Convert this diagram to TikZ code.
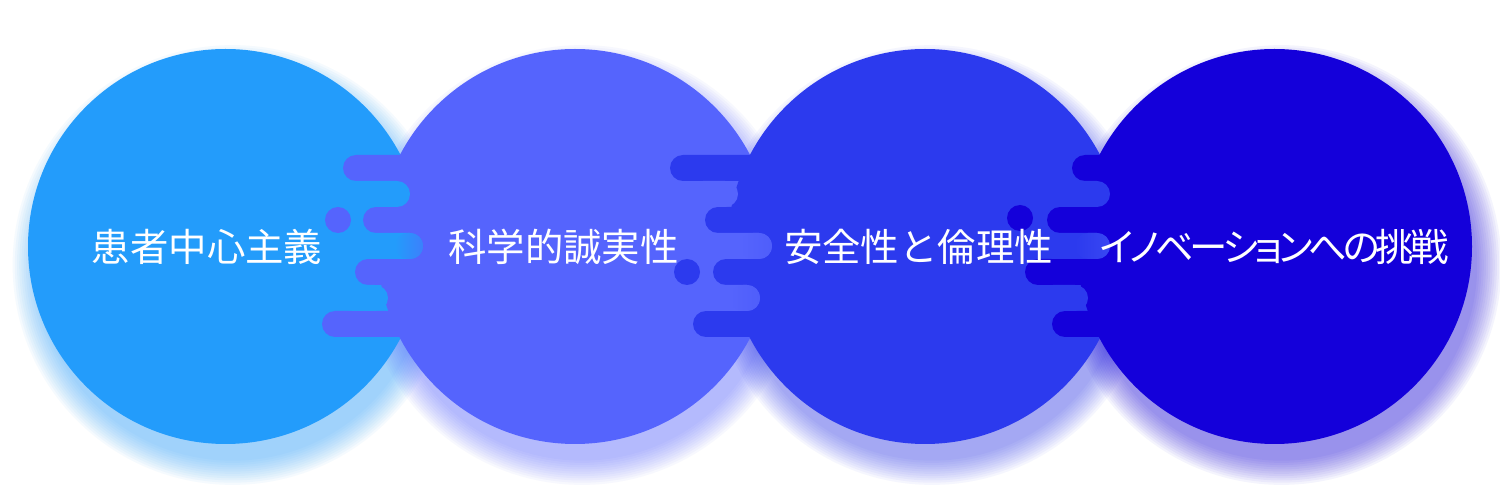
\documentclass[tikz,border=0pt]{standalone}
\usepackage{fontspec}
\usepackage{tikz}
\newfontfamily\jpfont{Noto Sans CJK JP}
\newfontfamily\jpkana[RawFeature=+palt,LetterSpace=-11]{Noto Sans CJK JP}
\definecolor{patientblue}{HTML}{239CFB}
\definecolor{integrityviolet}{HTML}{5564FD}
\definecolor{safetyblue}{HTML}{2C3AEE}
\definecolor{innovationindigo}{HTML}{1400DA}
\newcommand{\titlesize}{\fontsize{19.2pt}{23pt}\selectfont}

\begin{document}
\begin{tikzpicture}[x=0.5pt,y=-0.5pt,
    disc/.style={circle,inner sep=0pt,minimum size=197.5pt},
    bar/.style={rounded corners=6.5pt},
    title/.style={font=\jpfont\titlesize,text=white,anchor=base,inner sep=0pt}]
    \useasboundingbox (0,0) rectangle (1500,491);
    \fill[white] (0,0) rectangle (1500,491);

    \foreach \cx/\col in {225.5/patientblue,575/integrityviolet,925/safetyblue,1274.5/innovationindigo}
        \foreach \k in {1,...,12}
            \fill[\col,opacity=0.045] (\cx+7,265) circle[radius=96.75pt+\k*1.1pt];

    \node[disc,fill=patientblue] (patient) at (225.5,246.5) {};
    \node[disc,fill=integrityviolet] (integrity) at (575,246.5) {};
    \node[disc,fill=safetyblue] (safety) at (925,246.5) {};
    \node[disc,fill=innovationindigo] (innovation) at (1274.5,246.5) {};

    % patient | integrity
    \foreach \y/\xl in {155/343,207/363,259/355,311/322}
        \fill[integrityviolet,bar] (\xl,\y) rectangle (450,\y+26);
    \fill[integrityviolet] (338,220) circle[radius=6.5pt];
    \foreach \y/\xr in {181/410,233/423,285/388}
        \fill[patientblue,bar] (340,\y) rectangle (\xr,\y+26);
    \shade[bar,left color=patientblue,right color=patientblue!50!integrityviolet] (395,233) rectangle (423,259);

    % integrity | safety
    \foreach \y/\xl in {155/670,207/705,259/713,311/693}
        \fill[safetyblue,bar] (\xl,\y) rectangle (800,\y+26);
    \fill[safetyblue] (687,272) circle[radius=6.5pt];
    \foreach \y/\xr in {181/738,233/772,285/760}
        \fill[integrityviolet,bar] (690,\y) rectangle (\xr,\y+26);
    \shade[bar,left color=integrityviolet,right color=integrityviolet!85!safetyblue] (740,233) rectangle (772,259);
    \shade[bar,left color=integrityviolet,right color=integrityviolet!85!safetyblue] (730,285) rectangle (760,311);

    % safety | innovation
    \foreach \y/\xl in {155/1072,207/1047,259/1025,311/1052}
        \fill[innovationindigo,bar] (\xl,\y) rectangle (1150,\y+26);
    \fill[innovationindigo] (1020,218) circle[radius=6.5pt];
    \foreach \y/\xr in {181/1110,233/1110,285/1088}
        \fill[safetyblue,bar] (1040,\y) rectangle (\xr,\y+26);
    \shade[bar,left color=safetyblue,right color=safetyblue!70!integrityviolet] (1075,233) rectangle (1110,259);

    \node[title] (patienttext) at (207,262) {患者中心主義};
    \node[title] (integritytext) at (563.5,262) {科学的誠実性};
    \node[title] (safetytext) at (918.5,262) {安全性と倫理性};
    \node[title,font=\jpkana\titlesize] (innovationtext) at (1274,262) {イノベーションへの挑戦};
\end{tikzpicture}
\end{document}
